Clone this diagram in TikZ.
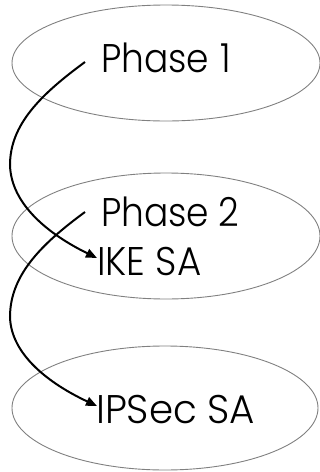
\documentclass[tikz,border=0pt]{standalone}
\usepackage{fontspec}
\setmainfont{Poppins Light}
\newfontfamily\phasefont{Poppins Light}[FakeStretch=0.9]
\newfontfamily\ikefont{Poppins Light}[FakeStretch=0.93]
\newfontfamily\ipsfont{Poppins Light}[FakeStretch=0.97]
\usetikzlibrary{arrows.meta}
\begin{document}
\begin{tikzpicture}[x=1pt,y=-1pt,
  ring/.style={draw=black!50,line width=0.9pt},
  lbl/.style={anchor=base west,inner sep=0pt,font=\fontsize{40}{40}\selectfont},
  flow/.style={draw=black,line width=2pt,-{Triangle[length=11pt,width=9pt]}}]
\useasboundingbox (0,0) rectangle (320,472);
\draw[ring] (166,63) ellipse [x radius=154,y radius=58];
\draw[ring] (166,236) ellipse [x radius=154,y radius=63];
\draw[ring] (165,408) ellipse [x radius=153,y radius=62];
\node[lbl] (p1) at (101,72) {\phasefont Phase\hspace{11pt}1};
\node[lbl] (p2) at (101,226) {\phasefont Phase\hspace{9pt}2};
\node[lbl] (ike) at (97,275) {\ikefont IKE SA};
\node[lbl] (ips) at (96,423) {\ipsfont IPSec SA};
\coordinate (s1) at (85,62);
\coordinate (m1) at (10,165);
\coordinate (t1) at (97,258);
\coordinate (s2) at (85,212);
\coordinate (m2) at (10,317);
\coordinate (t2) at (97,406);
\draw[flow] (s1) .. controls (40,95) and (10,125) .. (m1) .. controls (11,205) and (50,235) .. (t1);
\draw[flow] (s2) .. controls (40,245) and (10,276) .. (m2) .. controls (11,355) and (50,384) .. (t2);
\end{tikzpicture}
\end{document}
